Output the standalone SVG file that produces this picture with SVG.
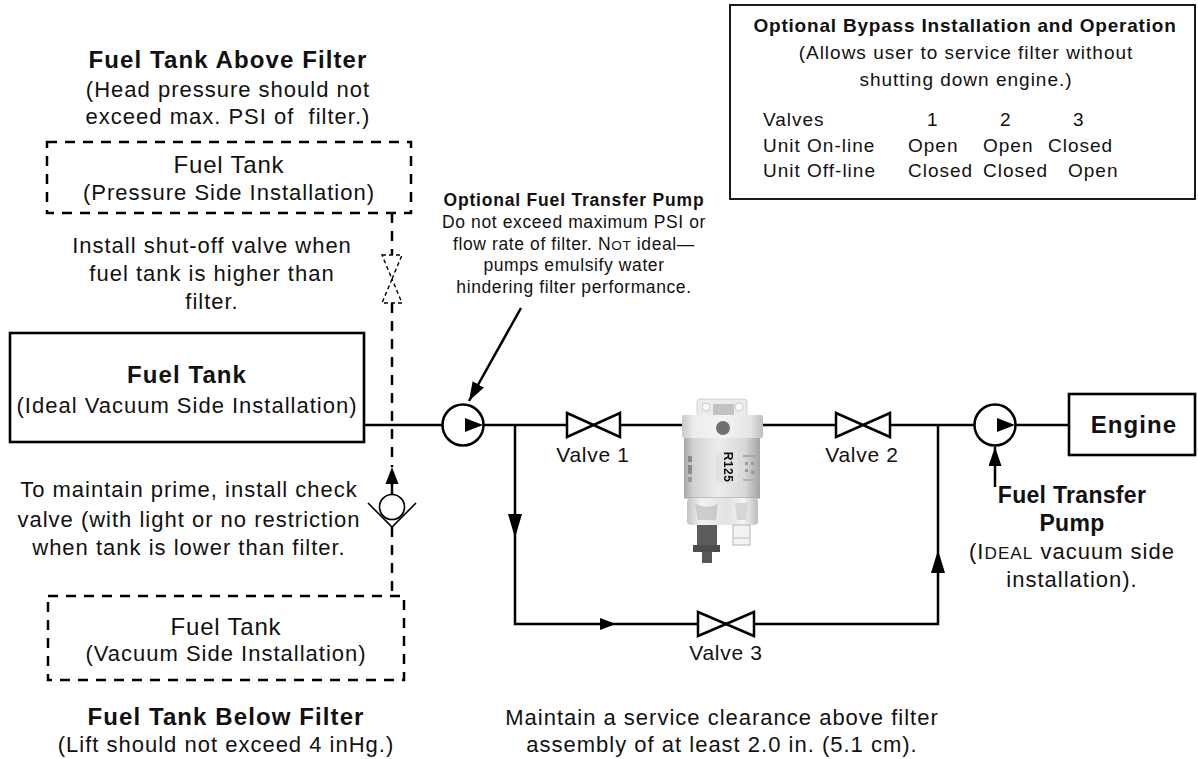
<svg xmlns="http://www.w3.org/2000/svg" width="1198" height="759" viewBox="0 0 1198 759">
  <defs>
    <style>
      .ln{fill:none;stroke:#000;stroke-width:2.5}
      .dash{fill:none;stroke:#000;stroke-width:2.5;stroke-dasharray:10 8}
      .thin-dash{fill:#fff;stroke:#000;stroke-width:1.4;stroke-dasharray:4 3}
      .box{fill:#fff;stroke:#000;stroke-width:2.6}
      .dbox{fill:none;stroke:#000;stroke-width:2.5;stroke-dasharray:10 8}
      .vlv{fill:#fff;stroke:#000;stroke-width:2.5;stroke-linejoin:miter}
      .pump{fill:#fff;stroke:#000;stroke-width:2.5}
      .ah{fill:#000;stroke:none}
      text{font-family:"Liberation Sans",Arial,Helvetica,sans-serif;fill:#111}
      .t{font-size:22px;letter-spacing:1px;text-anchor:middle}
      .tl{font-size:24px;letter-spacing:0.8px;text-anchor:middle}
      .b{font-size:24px;font-weight:bold;letter-spacing:1.1px;text-anchor:middle}
      .s{font-size:17.5px;letter-spacing:0.6px;text-anchor:middle}
      .sb{font-size:17.5px;font-weight:bold;letter-spacing:0.8px;text-anchor:middle}
      .k{font-size:19px;letter-spacing:1px}
      .kc{font-size:19px;letter-spacing:1px;text-anchor:middle}
      .kb{font-size:19px;font-weight:bold;letter-spacing:0.8px;text-anchor:middle}
      .v{font-size:21px;letter-spacing:0.7px;text-anchor:middle}
      .sc{font-size:0.78em}
    </style>
    <marker id="arrow" viewBox="0 0 19 13" refX="19" refY="6.5" markerWidth="19" markerHeight="13" markerUnits="userSpaceOnUse" orient="auto">
      <path d="M0,0 L19,6.5 L0,13 Z" fill="#000"/>
    </marker>
    <linearGradient id="gHead" x1="0" y1="0" x2="1" y2="0">
      <stop offset="0" stop-color="#c9c9c9"/>
      <stop offset="0.15" stop-color="#ececec"/>
      <stop offset="0.5" stop-color="#f4f4f4"/>
      <stop offset="0.85" stop-color="#e4e4e4"/>
      <stop offset="1" stop-color="#bdbdbd"/>
    </linearGradient>
    <linearGradient id="gBody" x1="0" y1="0" x2="1" y2="0">
      <stop offset="0" stop-color="#a8a8a8"/>
      <stop offset="0.12" stop-color="#d2d2d2"/>
      <stop offset="0.45" stop-color="#ececec"/>
      <stop offset="0.8" stop-color="#d8d8d8"/>
      <stop offset="1" stop-color="#a4a4a4"/>
    </linearGradient>
    <linearGradient id="gBowl" x1="0" y1="0" x2="1" y2="0">
      <stop offset="0" stop-color="#c4c4c4"/>
      <stop offset="0.2" stop-color="#f2f2f2"/>
      <stop offset="0.55" stop-color="#e2e2e2"/>
      <stop offset="0.8" stop-color="#f4f4f4"/>
      <stop offset="1" stop-color="#bcbcbc"/>
    </linearGradient>
    <filter id="soft" x="-5%" y="-5%" width="110%" height="110%">
      <feGaussianBlur stdDeviation="0.6"/>
    </filter>
  </defs>

  <rect width="1198" height="759" fill="#fff"/>

  <!-- piping and flow arrows -->
  <g id="connectors">
    <!-- main supply line -->
    <path class="ln" d="M364,425 H442.5 M483.5,425 H567 M620,425 H682 M763,425 H836 M890,425 H974.5 M1015.5,425 H1069"/>
    <!-- bypass loop -->
    <path class="ln" d="M515,425 V624 H938 V425"/>
    <polygon class="ah" points="508,514 522,514 515,538"/>
    <polygon class="ah" points="600,618 600,630 616,624"/>
    <polygon class="ah" points="931,573 945,573 938,550"/>
    <!-- alternative tank line (dashed) -->
    <path class="dash" d="M392,213 V255 M392,303 V467 M392,527 V596"/>
    <path class="ln" d="M392,484 V494.5"/>
    <polygon class="ah" points="392,467 385.5,484 398.5,484"/>
    <!-- callout arrows -->
    <line class="ln" x1="521" y1="308" x2="469" y2="401" marker-end="url(#arrow)"/>
    <line class="ln" x1="995" y1="487" x2="995" y2="447" marker-end="url(#arrow)"/>
  </g>

  <!-- tanks -->
  <g id="tank-above">
    <rect class="dbox" x="47" y="142" width="364" height="71"/>
    <text class="tl" x="229" y="173">Fuel Tank</text>
    <text class="t" x="229" y="200">(Pressure Side Installation)</text>
  </g>
  <g id="tank-main">
    <rect class="box" x="10" y="333" width="354" height="109"/>
    <text class="b" x="187" y="383">Fuel Tank</text>
    <text class="t" x="187" y="413">(Ideal Vacuum Side Installation)</text>
  </g>
  <g id="tank-below">
    <rect class="dbox" x="48" y="596" width="356" height="84"/>
    <text class="tl" x="226" y="635">Fuel Tank</text>
    <text class="t" x="226" y="661">(Vacuum Side Installation)</text>
  </g>

  <!-- shut-off valve (optional, dashed) -->
  <g id="shutoff-valve">
    <path class="thin-dash" d="M382,255 L402,255 L392,279 Z M392,279 L382,303 L402,303 Z"/>
  </g>

  <!-- check valve -->
  <g id="check-valve">
    <circle cx="392" cy="507" r="12.5" fill="#fff" stroke="#000" stroke-width="1.6"/>
    <path d="M368,503 L392,527 L416,503" fill="none" stroke="#000" stroke-width="1.6"/>
  </g>

  <!-- optional transfer pump -->
  <g id="pump-optional">
    <circle class="pump" cx="463" cy="425" r="20.5"/>
    <polygon class="ah" points="465,418 465,432 483,425"/>
  </g>

  <!-- valves -->
  <g id="valve-1">
    <path class="vlv" d="M567,413 L620,437 L620,413 L567,437 Z"/>
    <text class="v" x="593" y="462">Valve 1</text>
  </g>
  <g id="valve-2">
    <path class="vlv" d="M836,413 L890,437 L890,413 L836,437 Z"/>
    <text class="v" x="862" y="462">Valve 2</text>
  </g>
  <g id="valve-3">
    <path class="vlv" d="M698,612 L754,636 L754,612 L698,636 Z"/>
    <text class="v" x="726" y="660">Valve 3</text>
  </g>

  <!-- fuel filter / water separator -->
  <g id="filter" filter="url(#soft)">
    <rect x="697" y="399" width="50" height="17" rx="3" fill="#ebebeb" stroke="#d2d2d2"/>
    <circle cx="706" cy="407" r="4" fill="#fbfbfb" stroke="#cacaca"/>
    <circle cx="739" cy="407" r="4" fill="#fbfbfb" stroke="#cacaca"/>
    <rect x="713" y="404" width="21" height="12" fill="#c2c2c2"/>
    <rect x="682" y="415" width="81" height="23" rx="2" fill="url(#gHead)"/>
    <circle cx="723" cy="428" r="7" fill="#707070"/>
    <rect x="684" y="438" width="76" height="60" fill="url(#gBody)"/>
    <rect x="716" y="452" width="22" height="31" fill="#e2e2e2"/>
    <text x="727" y="467" transform="rotate(90 727 467)" text-anchor="middle" dominant-baseline="middle" font-size="12" font-weight="bold" fill="#4a4a4a" style="letter-spacing:0.5px">R125</text>
    <rect x="688" y="456" width="4" height="6" fill="#8a8a8a"/>
    <rect x="688" y="465" width="4" height="9" fill="#8a8a8a"/>
    <rect x="688" y="477" width="4" height="5" fill="#9a9a9a"/>
    <rect x="743" y="455" width="14" height="2" fill="#a8a8a8"/>
    <rect x="745" y="462" width="3" height="3" fill="#9a9a9a"/>
    <rect x="751" y="462" width="3" height="3" fill="#9a9a9a"/>
    <rect x="745" y="469" width="3" height="3" fill="#9a9a9a"/>
    <rect x="751" y="470" width="4" height="4" fill="#a0a0a0"/>
    <rect x="743" y="479" width="14" height="2" fill="#b0b0b0"/>
    <line x1="684" y1="498" x2="760" y2="498" stroke="#9e9e9e" stroke-width="1.2"/>
    <rect x="687" y="498" width="71" height="27" rx="4" fill="url(#gBowl)"/>
    <path d="M695,503 C702,508 712,508 718,503 L716,520 L698,520 Z" fill="#bdbdbd" opacity="0.7"/>
    <path d="M735,503 L748,503 L746,520 L737,520 Z" fill="#cfcfcf" opacity="0.8"/>
    <rect x="697" y="525" width="20" height="20" fill="#5c5c5c"/>
    <rect x="693" y="545" width="27" height="7" fill="#4e4e4e"/>
    <rect x="702" y="552" width="10" height="11" fill="#585858"/>
    <rect x="733" y="525" width="17" height="20" fill="#f3f3f3" stroke="#b4b4b4"/>
    <line x1="734" y1="538" x2="749" y2="538" stroke="#b8b8b8"/>
  </g>

  <!-- main transfer pump -->
  <g id="pump-main">
    <circle class="pump" cx="995" cy="425" r="20.5"/>
    <polygon class="ah" points="997,418 997,432 1015,425"/>
  </g>

  <!-- engine -->
  <g id="engine">
    <rect class="box" x="1069" y="394" width="126" height="61"/>
    <text class="b" x="1134" y="433">Engine</text>
  </g>

  <!-- bypass operation table -->
  <g id="bypass-info">
    <rect x="730" y="5" width="465" height="194" fill="#fff" stroke="#000" stroke-width="1.8"/>
    <text class="kb" x="965" y="32">Optional Bypass Installation and Operation</text>
    <text class="kc" x="966" y="59">(Allows user to service filter without</text>
    <text class="kc" x="966" y="86">shutting down engine.)</text>
    <text class="k" x="763" y="126">Valves</text>
    <text class="k" x="927" y="126">1</text>
    <text class="k" x="1000" y="126">2</text>
    <text class="k" x="1073" y="126">3</text>
    <text class="k" x="763" y="152">Unit On-line</text>
    <text class="k" x="908" y="152">Open</text>
    <text class="k" x="983" y="152">Open</text>
    <text class="k" x="1048" y="152">Closed</text>
    <text class="k" x="763" y="177">Unit Off-line</text>
    <text class="k" x="908" y="177">Closed</text>
    <text class="k" x="983" y="177">Closed</text>
    <text class="k" x="1068" y="177">Open</text>
  </g>

  <!-- notes -->
  <g id="notes">
    <text class="b" x="228" y="68">Fuel Tank Above Filter</text>
    <text class="t" x="228" y="97">(Head pressure should not</text>
    <text class="t" x="228" y="124" style="white-space:pre">exceed max. PSI of  filter.)</text>

    <text class="t" x="212" y="253">Install shut-off valve when</text>
    <text class="t" x="212" y="281">fuel tank is higher than</text>
    <text class="t" x="212" y="309">filter.</text>

    <text class="t" x="189" y="497">To maintain prime, install check</text>
    <text class="t" x="189" y="527">valve (with light or no restriction</text>
    <text class="t" x="189" y="555">when tank is lower than filter.</text>

    <text class="b" x="226" y="725">Fuel Tank Below Filter</text>
    <text class="t" x="226" y="752">(Lift should not exceed 4 inHg.)</text>

    <text class="sb" x="574" y="206">Optional Fuel Transfer Pump</text>
    <text class="s" x="574" y="228">Do not exceed maximum PSI or</text>
    <text class="s" x="574" y="250">flow rate of filter. N<tspan class="sc">OT</tspan> ideal—</text>
    <text class="s" x="574" y="271">pumps emulsify water</text>
    <text class="s" x="574" y="293">hindering filter performance.</text>

    <text class="b" x="1072" y="503" style="font-size:23px;letter-spacing:0.3px">Fuel Transfer</text>
    <text class="b" x="1072" y="531" style="font-size:23px;letter-spacing:0.3px">Pump</text>
    <text class="t" x="1072" y="559">(I<tspan class="sc">DEAL</tspan> vacuum side</text>
    <text class="t" x="1072" y="587">installation).</text>

    <text class="t" x="722" y="725">Maintain a service clearance above filter</text>
    <text class="t" x="722" y="752">assembly of at least 2.0 in. (5.1 cm).</text>
  </g>
</svg>
